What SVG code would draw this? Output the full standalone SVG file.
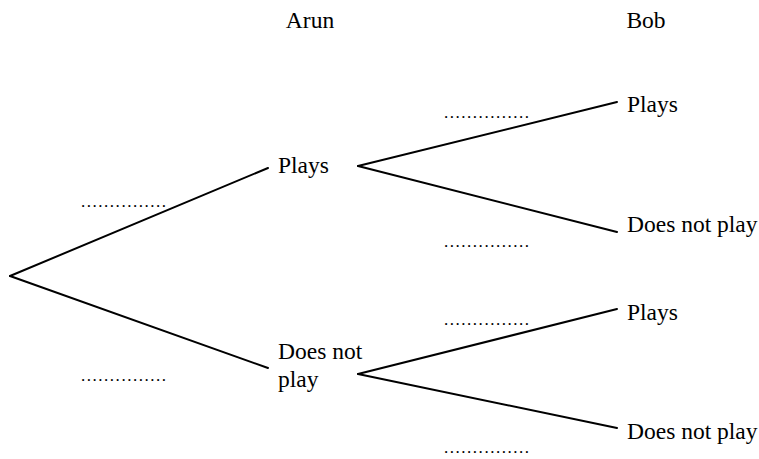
<svg xmlns="http://www.w3.org/2000/svg" width="759" height="459" viewBox="0 0 759 459">
<style>
text{font-family:"Liberation Serif","Times New Roman",serif;font-size:23.5px;fill:#000}
.d{font-size:17px}
line{stroke:#000;stroke-width:2;stroke-linecap:round}
</style>
<rect width="759" height="459" fill="#fff"/>
<g id="headers">
<text x="310" y="28" text-anchor="middle">Arun</text>
<text x="646" y="28" text-anchor="middle">Bob</text>
</g>
<g id="connectors">
<line x1="10" y1="276" x2="268" y2="168"/>
<line x1="10" y1="276" x2="268" y2="368"/>
<line x1="358" y1="166" x2="617" y2="102"/>
<line x1="358" y1="166" x2="617" y2="232"/>
<line x1="358" y1="374" x2="617" y2="309"/>
<line x1="358" y1="374" x2="617" y2="428"/>
</g>
<g id="labels">
<text class="d" x="81" y="207" textLength="85">...............</text>
<text class="d" x="81" y="381" textLength="85">...............</text>
<text class="d" x="444" y="118" textLength="85">...............</text>
<text class="d" x="444" y="247" textLength="85">...............</text>
<text class="d" x="444" y="325" textLength="85">...............</text>
<text class="d" x="444" y="453" textLength="85">...............</text>
</g>
<g id="arun-plays"><text x="278" y="173">Plays</text></g>
<g id="arun-notplay"><text x="278" y="359">Does not</text><text x="278" y="387">play</text></g>
<g id="bob-plays-1"><text x="627" y="112">Plays</text></g>
<g id="bob-notplay-1"><text x="627" y="232">Does not play</text></g>
<g id="bob-plays-2"><text x="627" y="320">Plays</text></g>
<g id="bob-notplay-2"><text x="627" y="439">Does not play</text></g>
</svg>
